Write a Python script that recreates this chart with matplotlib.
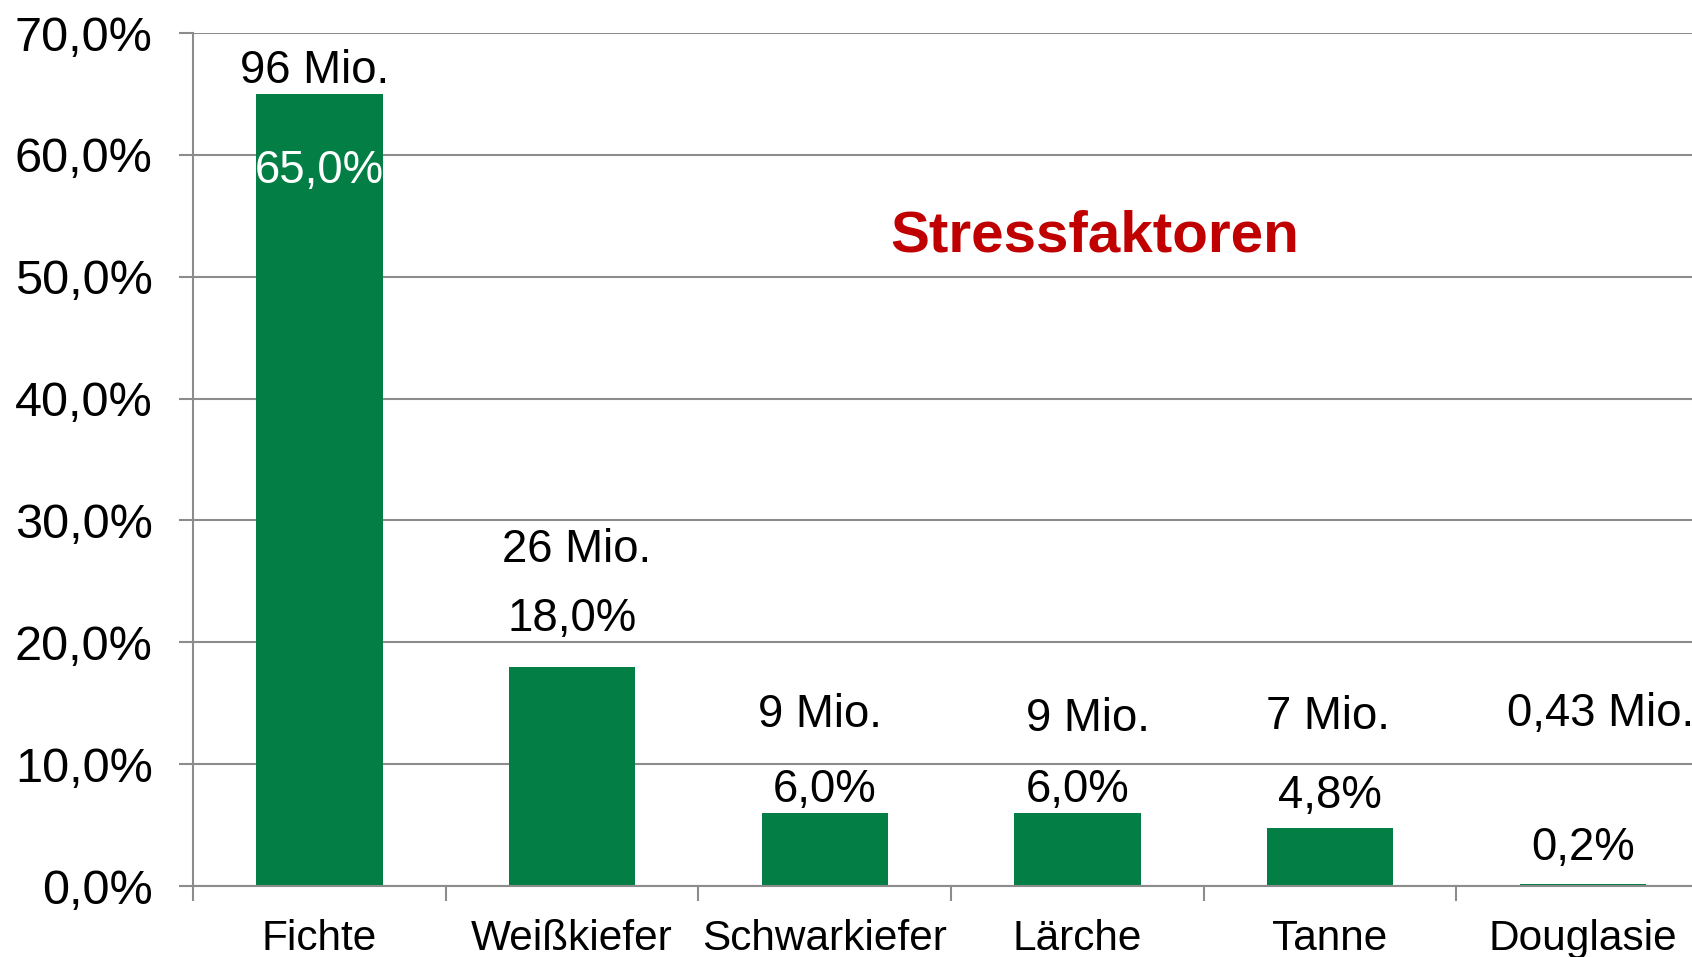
import matplotlib.pyplot as plt
from matplotlib.ticker import FixedLocator

plt.rcParams['font.family'] = ['Liberation Sans', 'DejaVu Sans']

species = ["Fichte", "Weißkiefer", "Schwarkiefer", "Lärche", "Tanne", "Douglasie"]
share = [65.0, 18.0, 6.0, 6.0, 4.8, 0.2]
share_labels = ["65,0%", "18,0%", "6,0%", "6,0%", "4,8%", "0,2%"]
mio_labels = ["96 Mio.", "26 Mio.", "9 Mio.", "9 Mio.", "7 Mio.", "0,43 Mio."]
yticks = [0, 10, 20, 30, 40, 50, 60, 70]
ytick_labels = ["0,0%", "10,0%", "20,0%", "30,0%", "40,0%", "50,0%", "60,0%", "70,0%"]

# label placement (data coords)
mio_pos = [(-0.02, 66.9), (0.02, 27.55), (-0.02, 14.0), (0.04, 13.7), (-0.01, 13.9), (0.07, 14.1)]
share_pos = [(0.0, 58.7), (0.0, 21.9), (0.0, 7.9), (0.0, 7.85), (0.0, 7.35), (0.0, 3.15)]

green = '#037F46'
grey = '#8C8C8C'

fig = plt.figure(figsize=(16.92, 9.57), dpi=100)
ax = fig.add_axes([193 / 1692, 71 / 957, 1516 / 1692, 853 / 957])

x = range(len(species))
ax.bar(x, share, width=0.5, color=green, zorder=2)

ax.set_xlim(-0.5, 5.5)
ax.set_ylim(0, 70)
ax.set_yticks(yticks)
ax.set_yticklabels(ytick_labels)
ax.yaxis.grid(True, color=grey, linewidth=1.5, zorder=0)
ax.set_axisbelow(True)

ax.set_xticks(list(x))
ax.set_xticklabels(species)
ax.xaxis.set_minor_locator(FixedLocator([i - 0.5 for i in range(len(species) + 1)]))
ax.tick_params(axis='x', which='major', length=0, pad=24, labelsize=30.5)
ax.tick_params(axis='x', which='minor', length=11, width=1.5, color=grey, direction='out')
ax.tick_params(axis='y', length=10, width=1.5, color=grey, pad=19, labelsize=35)

for side in ['top', 'right']:
    ax.spines[side].set_visible(False)
for side in ['left', 'bottom']:
    ax.spines[side].set_color(grey)
    ax.spines[side].set_linewidth(1.5)

for i in range(len(species)):
    dx, y = mio_pos[i]
    ax.text(i + dx, y, mio_labels[i], ha='center', va='center', fontsize=32.8, color='black')
    dx, y = share_pos[i]
    ax.text(i + dx, y, share_labels[i], ha='center', va='center', fontsize=32.8,
            color='white' if i == 0 else 'black')

ax.text(3.07, 53.3, "Stressfaktoren", ha='center', va='center', fontsize=42,
        fontweight='bold', color='#C00000')

fig.savefig('out.png', dpi=100)
